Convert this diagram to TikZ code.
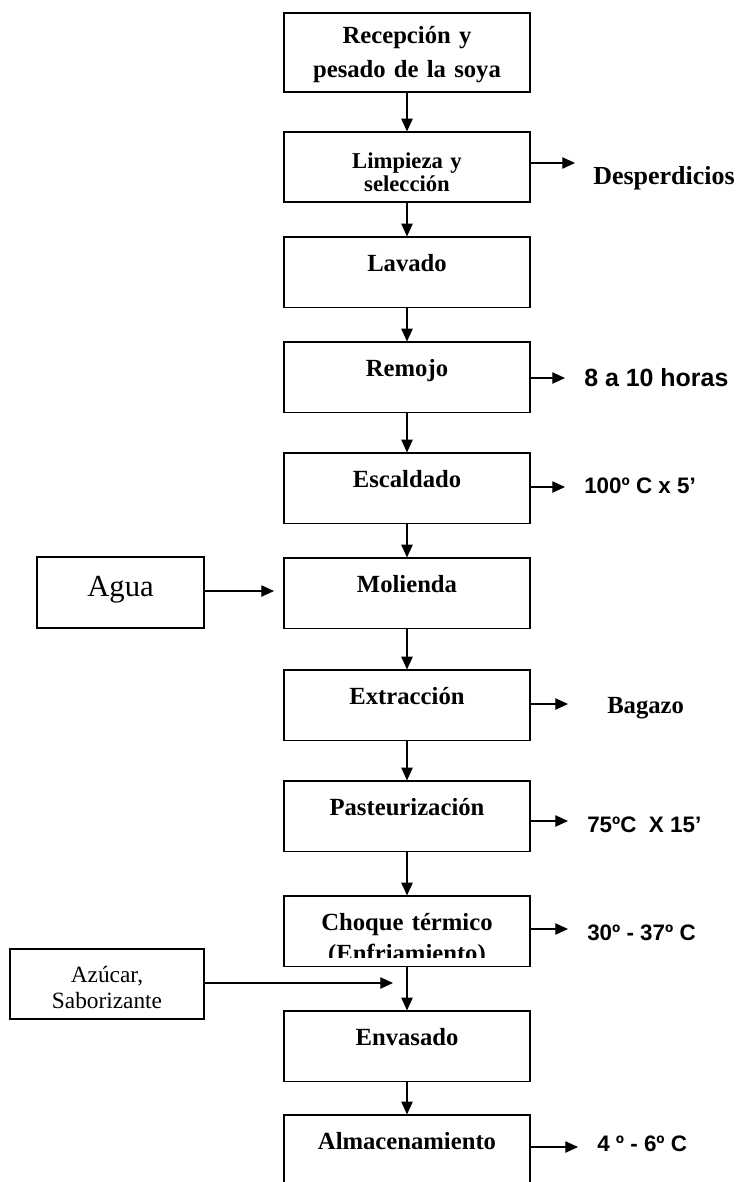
\documentclass[tikz,border=0pt]{standalone}
\usepackage{fontspec}
\setmainfont{Liberation Serif}
\newfontfamily\arialfont{Liberation Sans}
\usepackage{tikz}
\usetikzlibrary{arrows.meta}

\begin{document}
\begin{tikzpicture}[x=0.75pt, y=-0.75pt,
    proceso/.style={draw, line width=0.9pt, inner sep=0pt, anchor=base,
        text width=184.5pt, align=center, text height=25.5pt, text depth=27.5pt,
        font=\fontsize{18.5}{22}\selectfont\bfseries},
    entrada/.style={draw, line width=0.9pt, inner sep=0pt, anchor=base, align=center},
    flecha/.style={line width=0.9pt, -{Triangle[length=9.5pt,width=8.5pt]}},
    dato/.style={anchor=base west, inner sep=0pt,
        font=\arialfont\fontsize{16.8}{20}\selectfont\bfseries},
    datoserif/.style={anchor=base west, inner sep=0pt,
        font=\fontsize{18.5}{22}\selectfont\bfseries}]

    \useasboundingbox (0,0) rectangle (744,1182);
    \clip (0,0) rectangle (744,1182);

    % linea principal
    \node[proceso, text height=22.5pt, text depth=36.75pt,
        font=\fontsize{18.5}{25.5}\selectfont\bfseries] (recepcion) at (407,43) {Recepción y\\pesado de la soya};
    \node[proceso, text height=27pt, text depth=25.5pt,
        font=\fontsize{17}{17.5}\selectfont\bfseries] (limpieza) at (407,168) {Limpieza y\\selección};
    \node[proceso] (lavado) at (407,271) {Lavado};
    \node[proceso] (remojo) at (407,376) {Remojo};
    \node[proceso] (escaldado) at (407,487) {Escaldado};
    \node[proceso] (molienda) at (407,592) {Molienda};
    \node[proceso] (extraccion) at (407,704) {Extracción};
    \node[proceso] (pasteurizacion) at (407,815) {Pasteurización};
    \node[proceso] (choque) at (407,930) {Choque térmico};
    \begin{scope}
        \clip (284,935) rectangle (530,957);
        \node[anchor=base, inner sep=0pt, font=\fontsize{18.5}{22}\selectfont\bfseries] (enfriamiento) at (407,961) {(Enfriamiento)};
    \end{scope}
    \node[proceso] (envasado) at (407,1045) {Envasado};
    \node[proceso, text depth=42pt] (almacenamiento) at (407,1149) {Almacenamiento};

    % entradas
    \node[entrada, text width=125.25pt, text height=29.25pt, text depth=24pt,
        font=\fontsize{23}{26}\selectfont] (agua) at (120.5,596) {Agua};
    \node[entrada, text width=145.5pt, text height=24.75pt, text depth=27.75pt,
        font=\fontsize{17.5}{20}\selectfont] (azucar) at (107,982) {Azúcar,\\Saborizante};

    \draw[flecha] (recepcion) -- (limpieza);
    \draw[flecha] (limpieza) -- (lavado);
    \draw[flecha] (lavado) -- (remojo);
    \draw[flecha] (remojo) -- (escaldado);
    \draw[flecha] (escaldado) -- (molienda);
    \draw[flecha] (molienda) -- (extraccion);
    \draw[flecha] (extraccion) -- (pasteurizacion);
    \draw[flecha] (pasteurizacion) -- (choque);
    \draw[flecha] (choque) -- (envasado);
    \draw[flecha] (envasado) -- (almacenamiento);

    \coordinate (pagua) at (274,591);
    \coordinate (pazucar) at (393,983);
    \draw[flecha] (agua.east |- pagua) -- (pagua);
    \draw[flecha] (azucar.east |- pazucar) -- (pazucar);

    % salidas y condiciones
    \coordinate (s1) at (575,163);
    \coordinate (s2) at (565,378);
    \coordinate (s3) at (565,487);
    \coordinate (s4) at (568,704);
    \coordinate (s5) at (568,821);
    \coordinate (s6) at (568,929);
    \coordinate (s7) at (578,1147);
    \draw[flecha] (limpieza.east |- s1) -- (s1);
    \draw[flecha] (remojo.east |- s2) -- (s2);
    \draw[flecha] (escaldado.east |- s3) -- (s3);
    \draw[flecha] (extraccion.east |- s4) -- (s4);
    \draw[flecha] (pasteurizacion.east |- s5) -- (s5);
    \draw[flecha] (choque.east |- s6) -- (s6);
    \draw[flecha] (almacenamiento.east |- s7) -- (s7);

    \node[datoserif, font=\fontsize{19.5}{22}\selectfont\bfseries] (desperdicios) at (593,184) {Desperdicios};
    \node[dato, font=\arialfont\fontsize{18.7}{22}\selectfont\bfseries] (horas) at (584,386) {8 a 10 horas};
    \node[dato] (escaldar) at (584,493) {100º C x 5’};
    \node[datoserif] (bagazo) at (607,713) {Bagazo};
    \node[dato] (pasteurizar) at (587,832) {75ºC~ X 15’};
    \node[dato] (enfriar) at (587,940) {30º - 37º C};
    \node[dato] (almacenar) at (597,1151) {4 º - 6º C};

\end{tikzpicture}
\end{document}
